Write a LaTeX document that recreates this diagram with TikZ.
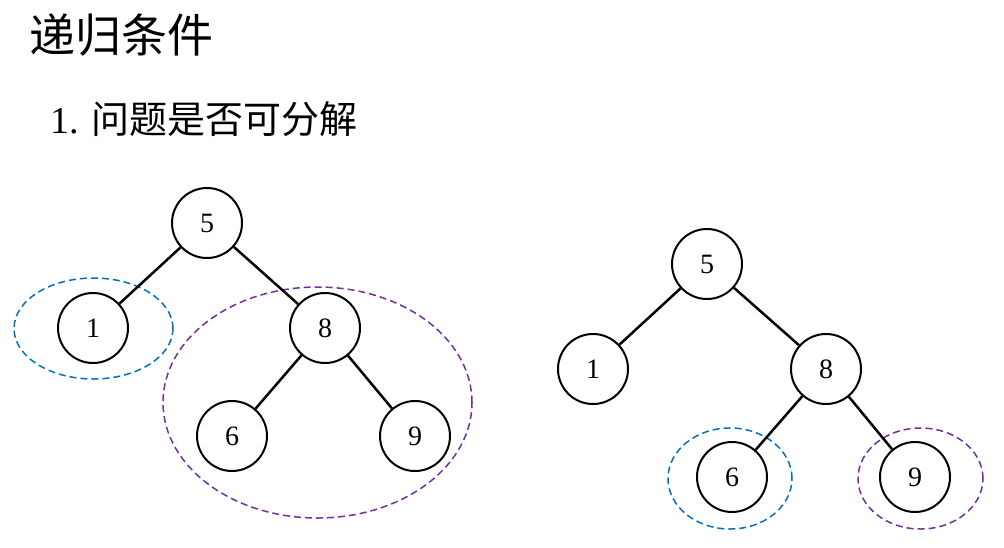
\documentclass[tikz,border=0pt]{standalone}
\usepackage{fontspec}
\setmainfont{Liberation Serif}
\newfontfamily\cjk{Noto Sans CJK SC}
\usetikzlibrary{positioning}
\definecolor{ringblue}{RGB}{0,112,192}
\definecolor{ringpurple}{RGB}{112,48,160}
\tikzset{
  vertex/.style={draw, circle, line width=2pt, minimum size=70pt, inner sep=0pt,
    font=\fontsize{28}{28}\selectfont},
  edge/.style={line width=2.5pt},
  ring/.style={dashed, line width=1.5pt, dash pattern=on 7pt off 4pt}
}
\begin{document}
\begin{tikzpicture}[x=1pt, y=-1pt]
			\useasboundingbox (0,0) rectangle (1004,547);
			
			%%%%% TITLE %%%%%
			\node[anchor=west, inner sep=0pt] (title) at (29,35) {\cjk\fontsize{46}{46}\selectfont 递归条件};
			\node[anchor=west, inner sep=0pt] (cond) at (50,119) {\fontsize{38}{38}\selectfont 1. {\cjk 问题是否可分解}};
			
			%%%%% LEFT TREE %%%%%
			\draw[ring, ringblue] (93.5,328.5) ellipse (79.5pt and 50.5pt);
			\draw[ring, ringpurple] (317.5,402.5) ellipse (154.5pt and 115.5pt);
			
			\node[vertex] (l5) at (207,223) {5};
			\node[vertex] (l1) at (93,328) {1};
			\node[vertex] (l8) at (325,328) {8};
			\node[vertex] (l6) at (232,436) {6};
			\node[vertex] (l9) at (415,436) {9};
			
			\draw[edge] (l5) -- (l1);
			\draw[edge] (l5) -- (l8);
			\draw[edge] (l8) -- (l6);
			\draw[edge] (l8) -- (l9);
			
			%%%%% RIGHT TREE %%%%%
			\draw[ring, ringblue] (730,478.5) ellipse (62pt and 50.5pt);
			\draw[ring, ringpurple] (920.5,478.5) ellipse (62.5pt and 50.5pt);
			
			\node[vertex] (r5) at (707,264) {5};
			\node[vertex] (r1) at (593,369) {1};
			\node[vertex] (r8) at (826,369) {8};
			\node[vertex] (r6) at (732,477) {6};
			\node[vertex] (r9) at (915,477) {9};
			
			\draw[edge] (r5) -- (r1);
			\draw[edge] (r5) -- (r8);
			\draw[edge] (r8) -- (r6);
			\draw[edge] (r8) -- (r9);
			
\end{tikzpicture}
\end{document}
